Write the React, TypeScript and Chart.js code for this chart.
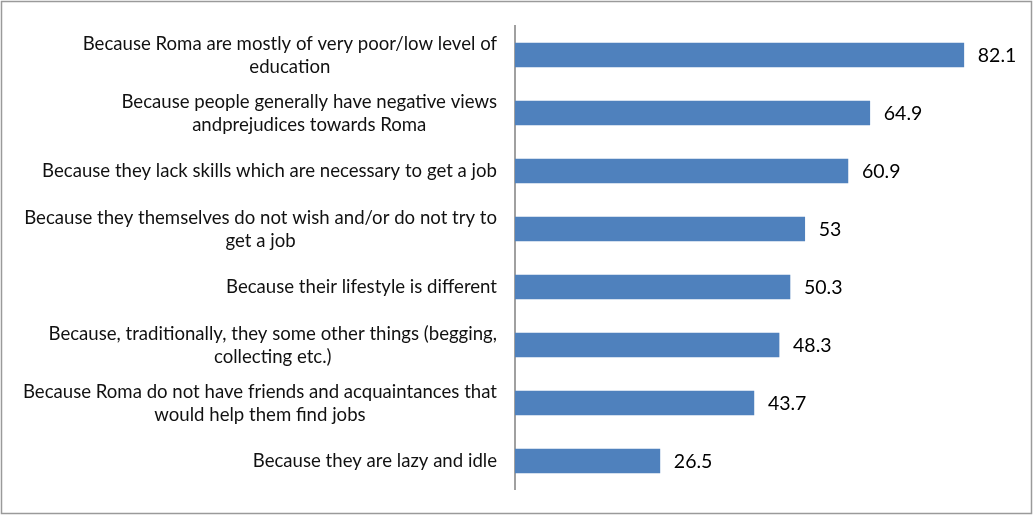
import React, { useEffect, useRef } from "react";
import { Chart, registerables } from "chart.js";

Chart.register(...registerables);

const categories: string[][] = [
  ["Because Roma are mostly of very poor/low level of", "education"],
  ["Because people generally have negative views", "andprejudices towards Roma"],
  ["Because they lack skills which are necessary to get a job"],
  ["Because they themselves do not wish and/or do not try to", "get a job"],
  ["Because their lifestyle is different"],
  ["Because, traditionally, they some other things (begging,", "collecting etc.)"],
  ["Because Roma do not have friends and acquaintances that", "would help them find jobs"],
  ["Because they are lazy and idle"],
];

const values: number[] = [82.1, 64.9, 60.9, 53, 50.3, 48.3, 43.7, 26.5];

const LABEL_FONT = '18.6px Lato';
const VALUE_FONT = '19.5px Lato';

const customDraw = {
  id: "customDraw",
  beforeDraw(chart: any) {
    const ctx = chart.ctx;
    ctx.save();
    ctx.fillStyle = "#ffffff";
    ctx.fillRect(0, 0, chart.width, chart.height);
    ctx.strokeStyle = "#9a9a9a";
    ctx.lineWidth = 1.5;
    ctx.strokeRect(1.5, 1.5, chart.width - 3, chart.height - 3);
    ctx.restore();
  },
  afterDraw(chart: any) {
    const ctx = chart.ctx;
    const yScale = chart.scales.y;
    const area = chart.chartArea;
    ctx.save();
    ctx.font = LABEL_FONT;
    ctx.fillStyle = "#111111";
    ctx.textBaseline = "middle";
    ctx.textAlign = "center";
    const lineH = 23;
    const rightEdge = area.left - 18;
    categories.forEach((lines, i) => {
      const yc = yScale.getPixelForValue(i);
      let maxW = 0;
      lines.forEach((l) => {
        maxW = Math.max(maxW, ctx.measureText(l).width);
      });
      const xc = rightEdge - maxW / 2;
      lines.forEach((l, j) => {
        ctx.fillText(l, xc, yc + (j - (lines.length - 1) / 2) * lineH);
      });
    });
    ctx.font = VALUE_FONT;
    ctx.textAlign = "left";
    ctx.fillStyle = "#000000";
    const meta = chart.getDatasetMeta(0);
    meta.data.forEach((bar: any, i: number) => {
      ctx.fillText(String(values[i]), bar.x + 14, bar.y + 1);
    });
    ctx.restore();
  },
};

export default function App() {
  const ref = useRef<HTMLCanvasElement | null>(null);
  useEffect(() => {
    if (!ref.current) return;
    const chart = new Chart(ref.current, {
      type: "bar",
      data: {
        labels: categories.map((c) => c.join(" ")),
        datasets: [
          {
            data: values,
            backgroundColor: "#4f81bd",
            borderColor: "#4f81bd",
            borderWidth: 0,
            barThickness: 24,
          },
        ],
      },
      options: {
        indexAxis: "y",
        animation: false,
        responsive: false,
        maintainAspectRatio: false,
        events: [],
        layout: { padding: { left: 0, top: 26, right: 26, bottom: 25 } },
        plugins: {
          legend: { display: false },
          tooltip: { enabled: false },
        },
        scales: {
          x: {
            display: false,
            min: 0,
            max: 90,
          },
          y: {
            type: "category",
            offset: true,
            afterFit: (scale: any) => {
              scale.width = 515;
            },
            grid: {
              display: true,
              drawOnChartArea: false,
              drawTicks: false,
              color: "rgba(0,0,0,0)",
              lineWidth: 0,
            },
            border: { display: true, color: "#a0a0a0", width: 2 },
            ticks: { display: false },
          },
        },
      },
      plugins: [customDraw],
    });
    return () => chart.destroy();
  }, []);
  return (
    <div style={{ position: "absolute", left: 0, top: 0, width: 1033, height: 515 }}>
      <canvas ref={ref} width={1033} height={515} style={{ width: 1033, height: 515, display: "block" }} />
    </div>
  );
}
